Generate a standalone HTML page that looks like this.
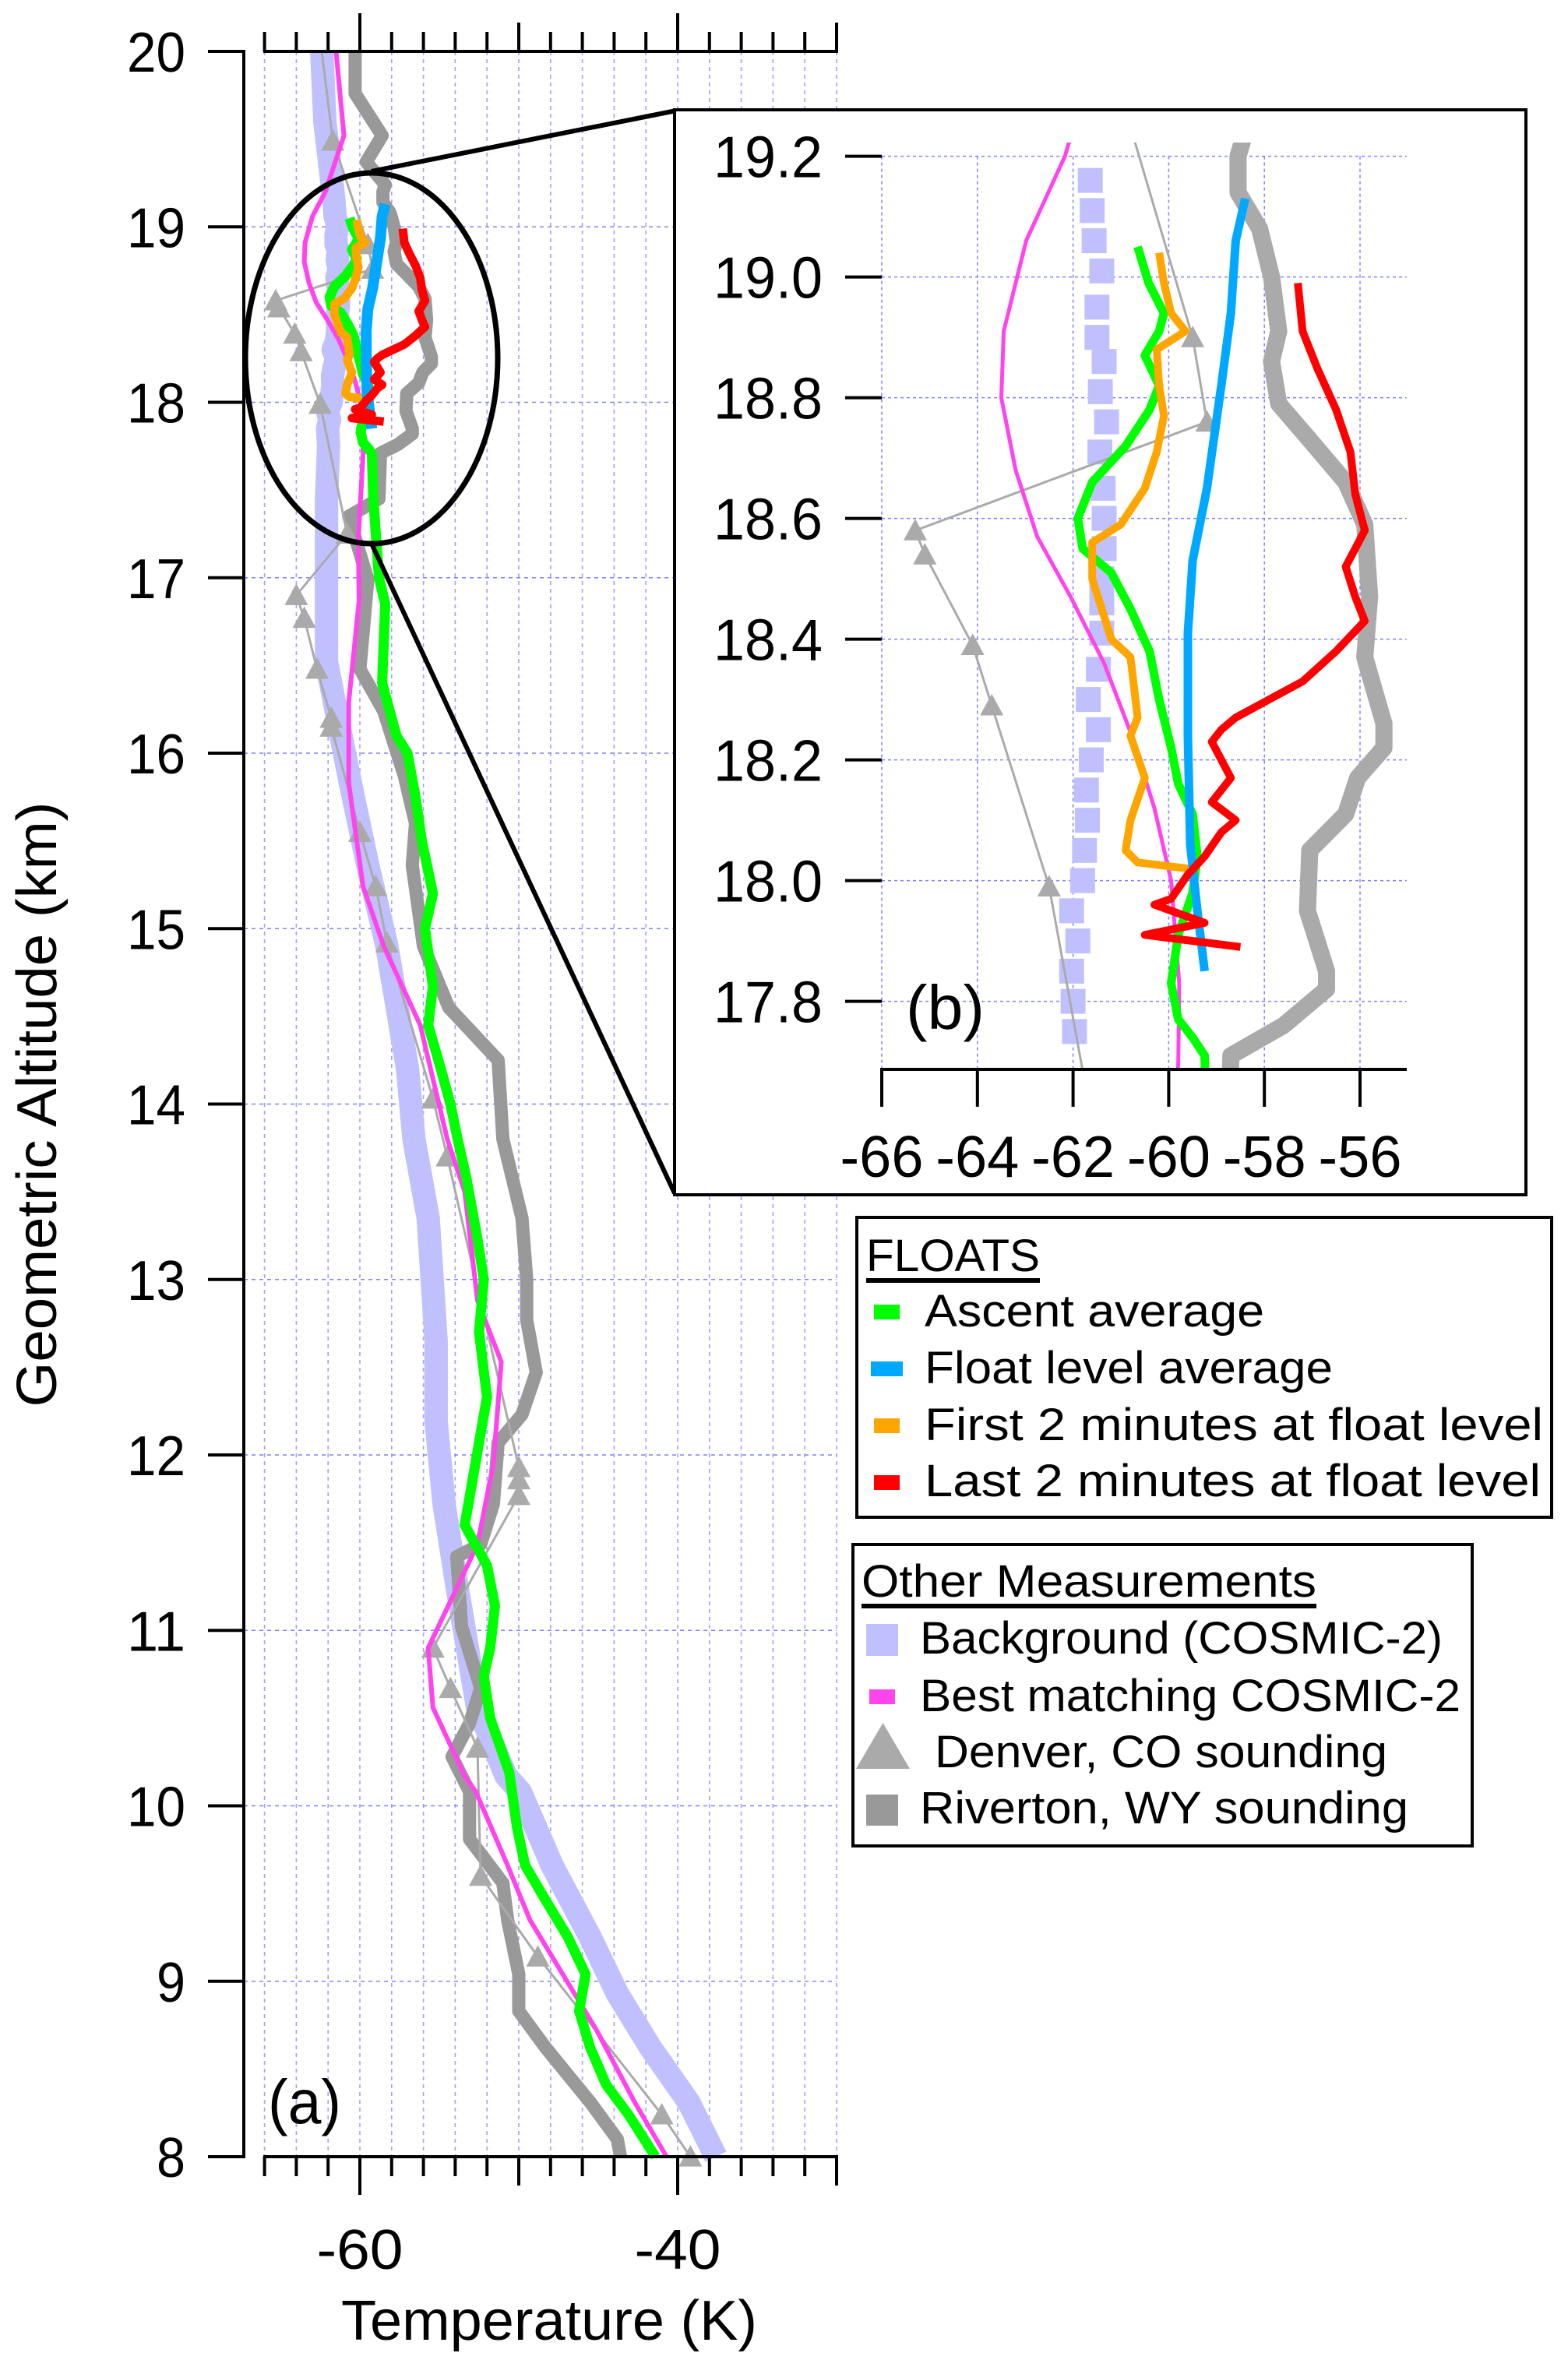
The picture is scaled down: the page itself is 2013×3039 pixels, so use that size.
<!DOCTYPE html>
<html><head><meta charset="utf-8"><title>Temperature profiles</title>
<style>html,body{margin:0;padding:0;background:#fff;width:2013px;height:3039px;overflow:hidden;position:relative}svg{display:block;position:absolute;left:0;top:0;overflow:hidden}text{font-family:"Liberation Sans",sans-serif;fill:#000}</style>
</head><body>
<svg id="fig" xmlns="http://www.w3.org/2000/svg" width="2013" height="3039" viewBox="0 0 2013 3039">
<defs>
<clipPath id="clipMain"><rect x="314" y="20" width="760" height="2770"/></clipPath>
<clipPath id="clipInset"><rect x="1132" y="183" width="674" height="1190"/></clipPath>
</defs>
<rect width="2013" height="3039" fill="#fff"/>
<g id="mainGrid"></g>
<g id="mainSeries" clip-path="url(#clipMain)"></g>
<g id="mainAxes"></g>
<text x="344" y="2726" font-size="80" textLength="94" lengthAdjust="spacingAndGlyphs">(a)</text>
<text x="705" y="3004" font-size="72" text-anchor="middle" textLength="534" lengthAdjust="spacingAndGlyphs">Temperature (K)</text>
<text transform="translate(72,1418) rotate(-90)" font-size="72" text-anchor="middle" textLength="777" lengthAdjust="spacingAndGlyphs">Geometric Altitude (km)</text>
<ellipse cx="477" cy="460" rx="162" ry="238" fill="none" stroke="#000" stroke-width="7"/>
<line x1="477" y1="220" x2="868" y2="142" stroke="#000" stroke-width="6"/>
<line x1="477" y1="698" x2="866" y2="1532" stroke="#000" stroke-width="6"/>
<rect x="866" y="141" width="1093" height="1393" fill="#fff" stroke="#000" stroke-width="4"/>
<g id="insetGrid"></g>
<g id="insetSeries" clip-path="url(#clipInset)"></g>
<g id="insetAxes"></g>
<text x="1163" y="1321" font-size="80" textLength="101" lengthAdjust="spacingAndGlyphs">(b)</text>

<g>
<rect x="1100" y="1563" width="892" height="385" fill="#fff" stroke="#000" stroke-width="4"/>
<text x="1112" y="1632" font-size="58" textLength="223" lengthAdjust="spacingAndGlyphs">FLOATS</text>
<rect x="1112" y="1641" width="223" height="6" fill="#000"/>
<rect x="1122" y="1675" width="33" height="19" fill="#00ff00"/>
<text x="1187" y="1703" font-size="58" textLength="436" lengthAdjust="spacingAndGlyphs">Ascent average</text>
<rect x="1118" y="1748" width="41" height="19" fill="#00a8ff"/>
<text x="1187" y="1776" font-size="58" textLength="524" lengthAdjust="spacingAndGlyphs">Float level average</text>
<rect x="1122" y="1821" width="33" height="19" fill="#ffa500"/>
<text x="1187" y="1849" font-size="58" textLength="794" lengthAdjust="spacingAndGlyphs">First 2 minutes at float level</text>
<rect x="1122" y="1894" width="33" height="19" fill="#ff0000"/>
<text x="1187" y="1921" font-size="58" textLength="791" lengthAdjust="spacingAndGlyphs">Last 2 minutes at float level</text>
</g>
<g>
<rect x="1095" y="1983" width="795" height="387" fill="#fff" stroke="#000" stroke-width="4"/>
<text x="1106" y="2050" font-size="58" textLength="584" lengthAdjust="spacingAndGlyphs">Other Measurements</text>
<rect x="1106" y="2059" width="584" height="6" fill="#000"/>
<rect x="1112" y="2085" width="41" height="41" fill="#c0c0ff"/>
<text x="1181" y="2123" font-size="58" textLength="671" lengthAdjust="spacingAndGlyphs">Background (COSMIC-2)</text>
<rect x="1116" y="2169" width="33" height="19" fill="#ff44ee"/>
<text x="1181" y="2197" font-size="58" textLength="694" lengthAdjust="spacingAndGlyphs">Best matching COSMIC-2</text>
<polygon points="1099,2271 1168,2271 1133.5,2212" fill="#aaaaaa"/>
<text x="1200" y="2269" font-size="58" textLength="581" lengthAdjust="spacingAndGlyphs">Denver, CO sounding</text>
<rect x="1112" y="2304" width="41" height="40" fill="#999999"/>
<text x="1181" y="2341" font-size="58" textLength="627" lengthAdjust="spacingAndGlyphs">Riverton, WY sounding</text>
</g>
</svg>
<script>
// ---- data: [temperature (C), altitude (km)] ----
var backgroundCosmic = [[-62.4,20],[-62.2,19.6],[-61.64,19.16],[-61.6,19.11],[-61.56,19.06],[-61.4,19.01],[-61.5,18.95],[-61.5,18.9],[-61.35,18.86],[-61.43,18.81],[-61.3,18.76],[-61.44,18.71],[-61.37,18.65],[-61.35,18.6],[-61.35,18.55],[-61.4,18.5],[-61.4,18.46],[-61.4,18.41],[-61.47,18.35],[-61.68,18.3],[-61.47,18.25],[-61.62,18.2],[-61.72,18.15],[-61.7,18.1],[-61.76,18.05],[-61.8,18.0],[-62.03,17.95],[-61.9,17.9],[-62.03,17.85],[-62,17.8],[-61.97,17.75],[-62.1,17.45],[-62.1,16.52],[-60.6,15.83],[-59.5,15.36],[-58.3,14.9],[-57,14.2],[-56.6,13.8],[-55.7,13.35],[-55.2,12.65],[-55.2,12.19],[-54.7,11.72],[-53.9,11.26],[-52.6,10.56],[-50.8,10.17],[-49.9,10.08],[-47.9,9.66],[-45.5,9.25],[-43.8,8.93],[-41.7,8.62],[-39.3,8.31],[-37.6,8.0]];
var bestCosmic = [[-61.5,20],[-61,19.52],[-62.17,19.2],[-62.98,19.06],[-63.45,18.91],[-63.5,18.8],[-63.2,18.68],[-62.75,18.57],[-62.05,18.47],[-61.35,18.36],[-60.77,18.24],[-60.3,18.12],[-59.95,18.0],[-59.78,17.83],[-59.8,17.7],[-60.1,17.22],[-60.05,16.87],[-60.7,16.29],[-60.7,15.83],[-59.8,15.24],[-58.5,14.9],[-56.2,14.45],[-54.5,13.8],[-53.4,13.5],[-52.6,12.88],[-51.1,12.53],[-51.6,11.95],[-52.6,11.49],[-55.7,10.9],[-55.4,10.56],[-53.4,10.17],[-52.7,10.08],[-50.7,9.66],[-49.3,9.35],[-46.5,8.93],[-45.1,8.72],[-42.7,8.31],[-40.7,8.0]];
var denverSounding = [[-62.4,20],[-61.7,19.49],[-59.5,18.9],[-59.2,18.76],[-65.3,18.58],[-65.1,18.54],[-64.1,18.39],[-63.7,18.29],[-62.5,17.99],[-60.8,17.25],[-64,16.9],[-63.5,16.77],[-62.7,16.48],[-61.8,16.2],[-61.8,16.15],[-60,15.55],[-59,15.24],[-58.3,14.92],[-55.4,14.03],[-54.5,13.7],[-50,11.93],[-50,11.86],[-50,11.77],[-55.4,10.9],[-54.3,10.67],[-52.6,10.33],[-52.4,9.6],[-48.8,9.14],[-41,8.24],[-39.2,8.0]];
var rivertonSounding = [[-60.3,20],[-60.3,19.76],[-58.6,19.52],[-59.6,19.37],[-58.4,19.24],[-58.55,19.2],[-58.55,19.14],[-58.1,19.08],[-57.85,19.0],[-57.7,18.91],[-57.85,18.86],[-57.7,18.79],[-57.05,18.73],[-56.3,18.66],[-55.9,18.59],[-55.8,18.47],[-55.9,18.37],[-55.5,18.26],[-55.5,18.22],[-56.05,18.17],[-56.3,18.11],[-57.05,18.05],[-57.1,17.95],[-56.7,17.85],[-56.7,17.82],[-57.6,17.76],[-58.7,17.71],[-58.8,17.45],[-60.7,17.35],[-59.5,16.99],[-60,16.48],[-58.5,16.24],[-57.2,15.87],[-56.5,15.6],[-56.7,15.36],[-56,14.9],[-54.4,14.55],[-51.3,14.25],[-51,13.8],[-49.8,13.35],[-49.5,13.0],[-49.5,12.77],[-48.9,12.47],[-49.8,12.23],[-51.3,12.07],[-51.6,11.72],[-52.4,11.49],[-53.9,11.42],[-53.6,11.02],[-52.4,10.67],[-53.1,10.47],[-54.2,10.28],[-53.1,10.08],[-53.1,9.81],[-51,9.56],[-50.7,9.35],[-50,9.04],[-50,8.83],[-48.3,8.62],[-45.5,8.31],[-43.8,8.1],[-43.6,8.0]];
var ascentAverage = [[-60.65,19.05],[-60.42,18.99],[-60.1,18.94],[-60.2,18.91],[-60.5,18.87],[-60.2,18.82],[-60.4,18.78],[-60.9,18.72],[-61.6,18.66],[-61.9,18.6],[-61.8,18.55],[-61.2,18.51],[-60.8,18.45],[-60.4,18.38],[-60.2,18.3],[-59.95,18.22],[-59.8,18.16],[-59.5,18.11],[-59.4,18.04],[-59.5,17.98],[-59.8,17.91],[-59.95,17.83],[-59.8,17.77],[-59.5,17.74],[-59.25,17.71],[-59.15,17.45],[-58.8,17.0],[-58.4,16.85],[-58.6,16.4],[-57.7,16.1],[-57,16.0],[-56.5,15.75],[-56.1,15.5],[-55.4,15.2],[-55.9,15.0],[-55.4,14.67],[-55.7,14.45],[-54.9,14.2],[-54.3,14.0],[-53.85,13.8],[-53.3,13.58],[-52.6,13.23],[-52.2,13.0],[-52.5,12.7],[-52,12.33],[-52.5,12.07],[-53.4,11.6],[-52,11.37],[-51.5,11.14],[-51.8,10.9],[-52.2,10.74],[-51.8,10.5],[-50.6,10.19],[-50.1,9.87],[-49.6,9.66],[-48.3,9.46],[-46.9,9.25],[-45.8,9.04],[-46.2,8.83],[-45.5,8.62],[-44.5,8.41],[-43.1,8.24],[-41.4,8.0]];
var floatLevelAverage = [[-58.4,19.13],[-58.6,19.06],[-58.7,18.94],[-58.9,18.82],[-59.2,18.65],[-59.5,18.53],[-59.6,18.41],[-59.6,18.24],[-59.55,18.06],[-59.4,17.95],[-59.25,17.85]];
var first2Minutes = [[-60.2,19.04],[-60.1,18.99],[-59.95,18.94],[-59.65,18.91],[-60.25,18.88],[-60.2,18.82],[-60.1,18.77],[-60.25,18.71],[-60.5,18.65],[-61,18.59],[-61.6,18.56],[-61.6,18.5],[-61.2,18.4],[-60.8,18.37],[-60.65,18.27],[-60.8,18.24],[-60.5,18.17],[-60.8,18.1],[-60.9,18.05],[-60.65,18.03],[-59.6,18.02]];
var last2Minutes = [[-57.3,18.99],[-57.2,18.91],[-56.9,18.85],[-56.5,18.78],[-56.2,18.71],[-56.1,18.64],[-55.9,18.58],[-56.3,18.52],[-56.1,18.47],[-55.9,18.43],[-56.5,18.38],[-57.2,18.33],[-57.9,18.3],[-58.6,18.27],[-58.9,18.25],[-59.1,18.23],[-58.7,18.17],[-59.1,18.13],[-58.6,18.1],[-58.9,18.08],[-59.25,18.04],[-59.6,18.01],[-59.95,17.97],[-60.3,17.96],[-59.25,17.93],[-60.5,17.91],[-58.5,17.89]];
// axis ticks
var mainYTicks = [8,9,10,11,12,13,14,15,16,17,18,19,20];
var mainXLabels = [-60,-40];
var insetYTicks = [17.8,18.0,18.2,18.4,18.6,18.8,19.0,19.2];
var insetXTicks = [-66,-64,-62,-60,-58,-56];

var NS = "http://www.w3.org/2000/svg";
function mk(tag, attrs, parent){var e=document.createElementNS(NS,tag);for(var k in attrs)e.setAttribute(k,attrs[k]);parent.appendChild(e);return e;}
function X(t){return 462+(t+60)*20.4;}
function Y(a){return 66+(20-a)*225.25;}
function XI(t){return 1132+(t+66)*61.4;}
function YI(a){return 200.6+(19.2-a)*775;}

var mg=document.getElementById('mainGrid'), ms=document.getElementById('mainSeries'), ma=document.getElementById('mainAxes');
var ig=document.getElementById('insetGrid'), is=document.getElementById('insetSeries'), ia=document.getElementById('insetAxes');
var e;
for (var t=-66;t<=-30;t+=2){
  e=mk('line',{x1:X(t),y1:Y(20),x2:X(t),y2:Y(8),stroke:'#a0a0ff','stroke-width':1.6,'stroke-dasharray':'5,5'},mg);
  
  
}
for (var i=1;i<mainYTicks.length-1;i++){
  e=mk('line',{x1:313,y1:Y(mainYTicks[i]),x2:1074,y2:Y(mainYTicks[i]),stroke:'#8080ff','stroke-width':1.6,'stroke-dasharray':'5,5'},mg);
  
  
}
function pathD(data,fx,fy){return data.map(function(p,i){return (i?'L':'M')+fx(p[0]).toFixed(1)+','+fy(p[1]).toFixed(1);}).join(' ');}
function drawLine(parent,data,fx,fy,color,w,name){
  var p=mk('path',{d:pathD(data,fx,fy),fill:'none',stroke:color,'stroke-width':w,'stroke-linejoin':'round','stroke-linecap':'butt'},parent);
  
  
  return p;
}
function drawTriangles(parent,data,fx,fy,s,name){
  data.forEach(function(p){
    if(p[1]>=19.99) return;
    var x=fx(p[0]),y=fy(p[1]);
    var tr=mk('polygon',{points:(x-s/2)+','+(y+s*0.42)+' '+(x+s/2)+','+(y+s*0.42)+' '+x+','+(y-s*0.5),fill:'#aaaaaa'},parent);
    
    
  });
}
drawLine(ms,backgroundCosmic,X,Y,'#c0c0ff',30,'background-cosmic-band');
drawLine(ms,rivertonSounding,X,Y,'#999999',17,'riverton-sounding-line');
drawLine(ms,denverSounding,X,Y,'#aaaaaa',3,'denver-sounding-line');
drawTriangles(ms,denverSounding,X,Y,30,'denver-marker');
drawLine(ms,bestCosmic,X,Y,'#ff44ee',6,'best-cosmic-line');
drawLine(ms,ascentAverage,X,Y,'#00ff00',13,'ascent-average-line');
drawLine(ms,first2Minutes,X,Y,'#ffa500',11,'first-2min-line');
drawLine(ms,floatLevelAverage,X,Y,'#00a8ff',14,'float-level-line');
drawLine(ms,last2Minutes,X,Y,'#ff0000',11,'last-2min-line');
e=mk('line',{x1:313,y1:Y(20)-2,x2:313,y2:Y(8)+2,stroke:'#000','stroke-width':4},ma);


e=mk('line',{x1:338,y1:Y(20),x2:1076,y2:Y(20),stroke:'#000','stroke-width':4},ma);


e=mk('line',{x1:338,y1:Y(8),x2:1076,y2:Y(8),stroke:'#000','stroke-width':4},ma);


for (var t2=-66;t2<=-30;t2+=2){
  var len = (t2===-60||t2===-40)?49:((t2===-50||t2===-30)?37:25);
  e=mk('line',{x1:X(t2),y1:Y(20),x2:X(t2),y2:Y(20)-len,stroke:'#000','stroke-width':4},ma);
  
  
  e=mk('line',{x1:X(t2),y1:Y(8),x2:X(t2),y2:Y(8)+len,stroke:'#000','stroke-width':4},ma);
  
  
}
mainYTicks.forEach(function(k){
  var l=mk('line',{x1:267,y1:Y(k),x2:313,y2:Y(k),stroke:'#000','stroke-width':4},ma);
  
  
  var tx=mk('text',{x:238,y:Y(k)+26,'font-size':72,'text-anchor':'end',textLength:(k<10?37:75),lengthAdjust:'spacingAndGlyphs'},ma);
  tx.textContent=String(k);
  
  
});
mainXLabels.forEach(function(v){
  var tx=mk('text',{x:X(v),y:2913,'font-size':72,'text-anchor':'middle',textLength:111,lengthAdjust:'spacingAndGlyphs'},ma);
  tx.textContent=String(v);
  
  
});
insetXTicks.forEach(function(v){
  var l=mk('line',{x1:XI(v),y1:YI(19.2),x2:XI(v),y2:1373,stroke:'#8080ff','stroke-width':1.5,'stroke-dasharray':'4,4'},ig);
  
  
});
insetYTicks.forEach(function(v){
  var l=mk('line',{x1:1132,y1:YI(v),x2:1806,y2:YI(v),stroke:'#8080ff','stroke-width':1.5,'stroke-dasharray':'4,4'},ig);
  
  
});
backgroundCosmic.forEach(function(p){
  var sq=mk('rect',{x:XI(p[0])-16,y:YI(p[1])-16,width:32,height:32,fill:'#c0c0ff'},is);
  
  
});
drawLine(is,rivertonSounding,XI,YI,'#aaaaaa',22,'inset-riverton-line');
drawLine(is,denverSounding,XI,YI,'#aaaaaa',3,'inset-denver-line');
drawTriangles(is,denverSounding,XI,YI,30,'inset-denver-marker');
drawLine(is,bestCosmic,XI,YI,'#ff44ee',5,'inset-best-cosmic-line');
drawLine(is,ascentAverage,XI,YI,'#00ff00',11,'inset-ascent-line');
drawLine(is,first2Minutes,XI,YI,'#ffa500',10,'inset-first-2min-line');
drawLine(is,floatLevelAverage,XI,YI,'#00a8ff',11,'inset-float-level-line');
drawLine(is,last2Minutes,XI,YI,'#ff0000',10,'inset-last-2min-line');
e=mk('line',{x1:1130,y1:1373,x2:1806,y2:1373,stroke:'#000','stroke-width':4},ia);


insetXTicks.forEach(function(v){
  var l=mk('line',{x1:XI(v),y1:1373,x2:XI(v),y2:1421,stroke:'#000','stroke-width':4},ia);
  
  
  var tx=mk('text',{x:XI(v),y:1511,'font-size':75,'text-anchor':'middle',textLength:107,lengthAdjust:'spacingAndGlyphs'},ia);
  tx.textContent=String(v);
  
  
});
insetYTicks.forEach(function(v){
  var l=mk('line',{x1:1085,y1:YI(v),x2:1132,y2:YI(v),stroke:'#000','stroke-width':4},ia);
  
  
  var tx=mk('text',{x:1056,y:YI(v)+27,'font-size':75,'text-anchor':'end',textLength:140,lengthAdjust:'spacingAndGlyphs'},ia);
  tx.textContent=v.toFixed(1);
  
  
});
</script>
</body></html>
